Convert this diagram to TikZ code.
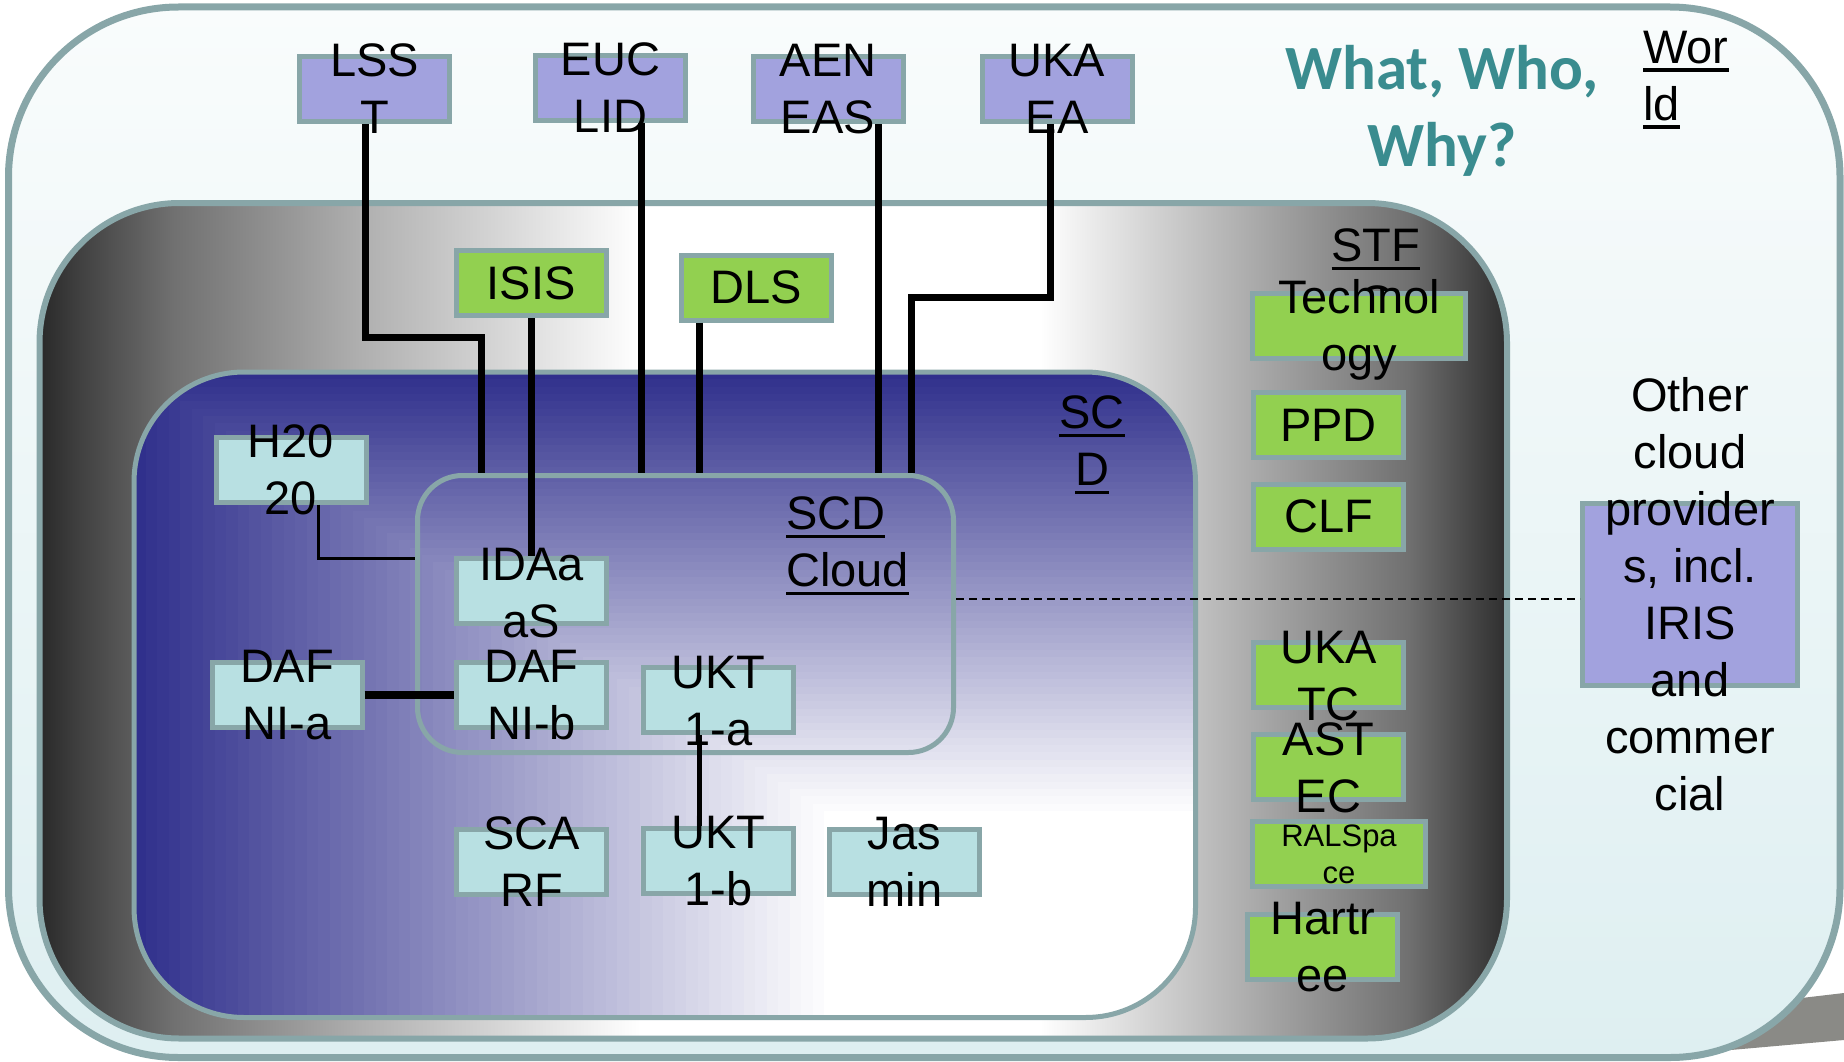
\documentclass[tikz,border=0pt]{standalone}
\usepackage{fontspec}
\setmainfont{Liberation Sans}
\newfontfamily\ttlfont{Carlito}
\usetikzlibrary{calc}
\definecolor{bord}{RGB}{136,166,168}
\definecolor{lav}{RGB}{162,162,222}
\definecolor{grn}{RGB}{146,208,80}
\definecolor{cyn}{RGB}{184,224,226}
\definecolor{navy}{RGB}{48,48,140}
\definecolor{ttl}{RGB}{58,140,143}
\definecolor{wtop}{RGB}{249,252,252}
\definecolor{wbot}{RGB}{222,239,241}
\definecolor{shadowgrey}{RGB}{138,138,134}
\pgfdeclarehorizontalshading{stfch}{100bp}{color(0bp)=(black!84); color(25bp)=(black!84); color(26.33bp)=(black!75); color(29.53bp)=(black!56); color(36.03bp)=(black!31); color(40.7bp)=(black!16); color(45.47bp)=(white); color(59.09bp)=(white); color(66.76bp)=(black!35); color(71.63bp)=(black!56); color(74.22bp)=(black!76); color(75bp)=(black!82); color(100bp)=(black!82)}
\newcommand\mystrut{\rule{0pt}{36pt}}
\newcommand\myul[1]{\setbox0=\hbox{#1}\rlap{\rule[-8.7pt]{\wd0}{3.4pt}}\box0}
\begin{document}
\begin{tikzpicture}[x=1pt,y=-1pt,
  bx/.style={draw=bord, line width=5pt, inner sep=0pt, minimum width=150pt, minimum height=65pt, font=\fontsize{47}{57}\selectfont},
  lavbox/.style={bx, fill=lav},
  grnbox/.style={bx, fill=grn},
  cynbox/.style={bx, fill=cyn},
  txt/.style={align=center, inner sep=0pt, anchor=north, font=\fontsize{47}{57}\selectfont},
  smalltxt/.style={align=center, inner sep=0pt, anchor=north, font=\fontsize{31}{37}\selectfont},
  conn/.style={line width=7pt, black},
  region/.style={draw=bord}]
\useasboundingbox (0,0) rectangle (1844,1062);
% shadow behind world
\fill[shadowgrey] (1640,1058) -- (1844,1040) -- (1844,993) -- (1640,1017) -- cycle;
% world
\shade[top color=wtop, bottom color=wbot, rounded corners=170pt] (8.5,7) rectangle (1840,1057.5);
\draw[region, line width=7pt, rounded corners=170pt] (8.5,7) rectangle (1840,1057.5);
% STFC
\shade[shading=stfch, rounded corners=140pt] (39.5,203) rectangle (1507,1038.5);
\draw[region, line width=6pt, rounded corners=140pt] (39.5,203) rectangle (1507,1038.5);
\node[txt] (stfc) at (1376,225) {\mystrut\myul{STF}\\\myul{C}};
% SCD
\begin{scope}
\clip[rounded corners=110pt] (134,372) rectangle (1195.5,1017.5);
\foreach \i in {0,...,60}{
  \pgfmathsetmacro\pp{100*(1-\i/60)}
  \pgfmathsetmacro\xx{134+11.5*\i}
  \pgfmathsetmacro\yy{372+7.316*\i}
  \fill[navy!\pp!white] (\xx,\yy) rectangle (1197,1019);
}
\end{scope}
\draw[region, line width=5pt, rounded corners=110pt] (134,372) rectangle (1195.5,1017.5);
% SCD cloud
\node[draw=bord, line width=5pt, rounded corners=45pt, minimum width=536pt, minimum height=277pt, inner sep=0pt] (cloud) at (685.5,614) {};
% boxes
\node[lavbox] (lsst) at (374.5,89) {};
\node[lavbox] (euclid) at (610.5,88.5) {};
\node[lavbox] (aeneas) at (828,89.5) {};
\node[lavbox] (ukaea) at (1057,89.5) {};
\node[grnbox] (isis) at (531,283) {ISIS};
\node[grnbox] (dls) at (756,287.5) {DLS};
\node[grnbox, minimum width=213pt] (tech) at (1359,325.5) {};
\node[grnbox] (ppd) at (1328.5,425) {PPD};
\node[grnbox] (clf) at (1328.5,516.5) {CLF};
\node[grnbox] (ukatc) at (1328.5,675) {};
\node[grnbox] (astec) at (1328.5,767) {};
\node[grnbox, minimum width=173pt] (ral) at (1339,854) {};
\node[grnbox] (hartree) at (1322.5,946.5) {};
\node[cynbox] (h2020) at (291,469.5) {};
\node[cynbox] (idaas) at (531.5,591) {};
\node[cynbox] (dafnia) at (287,694.5) {};
\node[cynbox] (dafnib) at (531.5,694.5) {};
\node[cynbox] (ukta) at (718.5,700) {};
\node[cynbox] (scarf) at (531.5,861.5) {};
\node[cynbox] (uktb) at (718.5,860.5) {};
\node[cynbox] (jasmin) at (904.5,861.5) {};
\node[lavbox, minimum width=215pt, minimum height=182pt] (other) at (1690,594.5) {};
% connectors
\coordinate (c-lsst) at ([xshift=-9.5pt]lsst.south);
\coordinate (c-euclid) at ([xshift=30.5pt]euclid.south);
\coordinate (c-dls) at ([xshift=-57pt]dls.south);
\coordinate (c-aeneas) at ([xshift=50pt]aeneas.south);
\coordinate (c-ukaea) at ([xshift=-7pt]ukaea.south);
\coordinate (c-h2020) at ([xshift=27pt]h2020.south);
\coordinate (c-ukt) at ([xshift=-19.5pt]ukta.south);
\coordinate (bend-lsst) at (481,337);
\coordinate (bend-ukaea) at (911,297);
\coordinate (bend-h2020) at (0,558);
\coordinate (dash-y) at (0,599);
\draw[conn] (c-lsst) |- (bend-lsst) -- (bend-lsst |- cloud.north);
\draw[conn] (isis.south) -- (isis.south |- idaas.north);
\draw[conn] (c-euclid) -- (c-euclid |- cloud.north);
\draw[conn] (c-dls) -- (c-dls |- cloud.north);
\draw[conn] (c-aeneas) -- (c-aeneas |- cloud.north);
\draw[conn] (c-ukaea) |- (bend-ukaea) -- (bend-ukaea |- cloud.north);
\draw[line width=3pt] (c-h2020) |- (cloud.west |- bend-h2020);
\draw[line width=8pt] (dafnia.east) -- (dafnib.west);
\draw[line width=5pt] (c-ukt) -- (c-ukt |- uktb.north);
\draw[line width=2pt, dash pattern=on 8pt off 5pt] (cloud.east |- dash-y) -- (other.west |- dash-y);
% texts
\node[txt] (lsst-t) at ($(lsst)+(0,-49)$) {\mystrut LSS\\T};
\node[txt] (euclid-t) at ($(euclid)+(0,-49)$) {\mystrut EUC\\LID};
\node[txt] (aeneas-t) at ($(aeneas)+(0,-49)$) {\mystrut AEN\\EAS};
\node[txt] (ukaea-t) at ($(ukaea)+(0,-49)$) {\mystrut UKA\\EA};
\node[txt] (tech-t) at ($(tech)+(0,-48)$) {\mystrut Technol\\ogy};
\node[txt] (ukatc-t) at ($(ukatc)+(0,-48)$) {\mystrut UKA\\TC};
\node[txt] (astec-t) at ($(astec)+(0,-48)$) {\mystrut AST\\EC};
\node[smalltxt] (ral-t) at ($(ral)+(0,-31)$) {\rule{0pt}{23pt}RALSpa\\ce};
\node[txt] (hartree-t) at ($(hartree)+(0,-48.5)$) {\mystrut Hartr\\ee};
\node[txt] (h2020-t) at ($(h2020)+(0,-48)$) {\mystrut H20\\20};
\node[txt] (idaas-t) at ($(idaas)+(0,-47)$) {\mystrut IDAa\\aS};
\node[txt] (dafnia-t) at ($(dafnia)+(0,-48.5)$) {\mystrut DAF\\NI-a};
\node[txt] (dafnib-t) at ($(dafnib)+(0,-48.5)$) {\mystrut DAF\\NI-b};
\node[txt] (ukta-t) at ($(ukta)+(0,-47.5)$) {\mystrut UKT\\1-a};
\node[txt] (scarf-t) at ($(scarf)+(0,-48.5)$) {\mystrut SCA\\RF};
\node[txt] (uktb-t) at ($(uktb)+(0,-48.5)$) {\mystrut UKT\\1-b};
\node[txt] (jasmin-t) at ($(jasmin)+(0,-48.5)$) {\mystrut Jas\\min};
\node[txt] (other-t) at (1690,375) {\mystrut Other\\cloud\\provider\\s, incl.\\IRIS\\and\\commer\\cial};
\node[txt, anchor=north west, align=left] (scdcloud) at (786,493) {\mystrut\myul{SCD}\\\myul{Cloud}};
\node[txt] (scd) at (1092,392) {\mystrut\myul{SC}\\\myul{D}};
\node[txt, anchor=north west, align=left] (world) at (1643,27) {\mystrut\myul{Wor}\\\myul{ld}};
\node[txt, font=\ttlfont\bfseries\fontsize{63}{77}\selectfont, text=ttl] (title) at (1442,39) {\rule{0pt}{50pt}What, Who,\\Why?};
\end{tikzpicture}
\end{document}
